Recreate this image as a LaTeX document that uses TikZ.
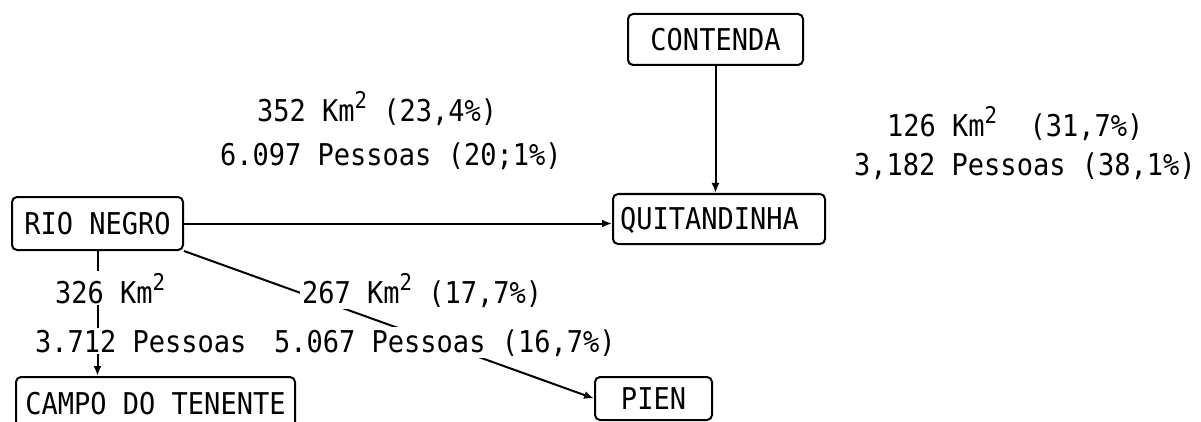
\documentclass[tikz,border=0pt]{standalone}
\usepackage{fontspec}
\newfontfamily\tw[FakeStretch=0.9]{DejaVu Sans Mono}
\usetikzlibrary{arrows.meta}
\newcommand\supii{\raisebox{13pt}{\fontsize{23}{23}\selectfont 2}}
\tikzset{
  every node/.style={font=\tw\fontsize{30}{36}\selectfont},
  box/.style={draw, line width=2pt, rounded corners=5pt, inner sep=0pt,
              text height=21.9pt, text depth=0pt},
  lab/.style={fill=white, inner sep=2pt, anchor=base west},
  conn/.style={line width=2pt},
  arr/.style={conn, -{Latex[length=10pt,width=8pt]}},
}
\begin{document}
\begin{tikzpicture}[x=1pt,y=-1pt]
\fill[white] (0,0) rectangle (1201,422);
\useasboundingbox (0,0) rectangle (1201,422);

% boxes
\node[box, minimum width=175pt, minimum height=51pt] (contenda) at (715.5,39.5) {CONTENDA};
\node[box, minimum width=212pt, minimum height=50pt, text width=198pt,
      align=left, inner xsep=7pt] (quit) at (719,219) {QUITANDINHA};
\node[box, minimum width=171pt, minimum height=53pt] (rio) at (97.5,223.5) {RIO NEGRO};
\node[box, minimum width=279pt, minimum height=54pt] (campo) at (155.5,404) {CAMPO DO TENENTE};
\node[box, minimum width=117pt, minimum height=43pt] (pien) at (653.5,398.5) {PIEN};

% connectors
\draw[arr] (contenda.south) -- (contenda.south |- quit.north);
\draw[arr] (rio.east) -- (rio.east -| quit.west);
\draw[arr] (rio.south) -- (rio.south |- campo.north);
\draw[arr] (rio.south east) -- (pien.west);

% labels
\node[lab] (l1a) at (255,122) {352 Km\supii{} (23,4\%)};
\node[lab] (l1b) at (218,166) {6.097 Pessoas (20;1\%)};
\node[lab] (l2a) at (885,137) {126 Km\supii\ \ (31,7\%)};
\node[lab] (l2b) at (852,176) {3,182 Pessoas (38,1\%)};
\node[lab] (l3a) at (53,303) {326 Km\supii};
\node[lab] (l3b) at (33,352) {3.712 Pessoas};
\node[lab] (l4a) at (300,303) {267 Km\supii{} (17,7\%)};
\node[lab] (l4b) at (272,352) {5.067 Pessoas (16,7\%)};
\end{tikzpicture}
\end{document}
